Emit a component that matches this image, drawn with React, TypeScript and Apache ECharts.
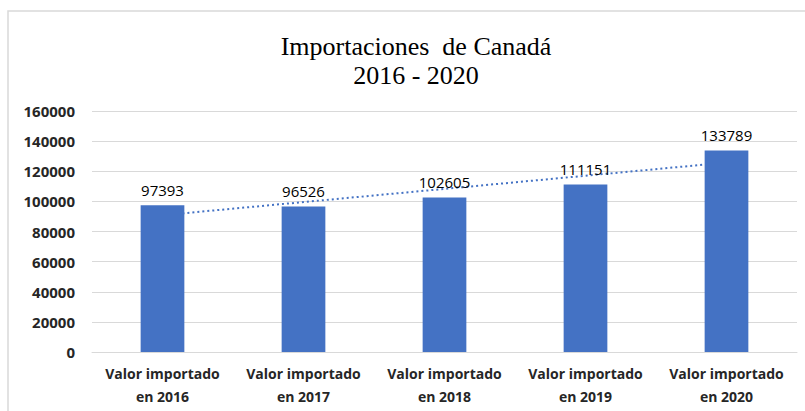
import React, { useEffect, useRef } from "react";
import * as echarts from "echarts";

const categories = [
  "Valor importado\nen 2016",
  "Valor importado\nen 2017",
  "Valor importado\nen 2018",
  "Valor importado\nen 2019",
  "Valor importado\nen 2020",
];
const values = [97393, 96526, 102605, 111151, 133789];
// linear trendline endpoints (first and last category)
const trendEnds = [90809, 125776];
const titleLines = ["Importaciones  de Canadá", "2016 - 2020"];

export default function App() {
  const ref = useRef<HTMLDivElement>(null);
  useEffect(() => {
    document.body.style.margin = "0";
    const chart = echarts.init(ref.current!, null, { renderer: "svg" });
    const trendData: (number | string)[] = categories.map(() => "-");
    trendData[0] = trendEnds[0];
    trendData[categories.length - 1] = trendEnds[1];
    chart.setOption({
      animation: false,
      backgroundColor: "#ffffff",
      title: {
        text: titleLines.join("\n"),
        left: 411,
        textAlign: "center",
        top: 27,
        textStyle: {
          fontFamily: "Liberation Serif",
          fontWeight: "normal",
          fontSize: 26,
          lineHeight: 29,
          color: "#000000",
        },
      },
      graphic: [
        {
          type: "rect",
          shape: { x: 8, y: 11, width: 900, height: 500 },
          style: { fill: "none", stroke: "#d9d9d9", lineWidth: 1.5 },
          silent: true,
        },
      ],
      grid: { left: 92, right: 8, top: 111, bottom: 59 },
      xAxis: {
        type: "category",
        data: categories,
        axisLine: { lineStyle: { color: "#d9d9d9", width: 1 } },
        axisTick: { show: false },
        axisLabel: {
          fontFamily: "Open Sans",
          fontWeight: "bold",
          fontSize: 14,
          lineHeight: 23,
          color: "#262626",
          margin: 10,
          interval: 0,
        },
      },
      yAxis: {
        type: "value",
        min: 0,
        max: 160000,
        interval: 20000,
        axisLine: { show: false },
        axisTick: { show: false },
        splitLine: { lineStyle: { color: "#d9d9d9", width: 1 } },
        axisLabel: {
          fontFamily: "Open Sans",
          fontWeight: "bold",
          fontSize: 15,
          color: "#262626",
          margin: 17,
          formatter: (v: number) => String(v),
        },
      },
      series: [
        {
          type: "line",
          data: trendData,
          connectNulls: true,
          symbol: "none",
          z: 1,
          lineStyle: { color: "#4472C4", width: 2, type: [2, 3] },
        },
        {
          type: "bar",
          data: values,
          barWidth: "31%",
          z: 2,
          itemStyle: { color: "#4472C4" },
          label: {
            show: true,
            position: "top",
            distance: 8,
            fontFamily: "Open Sans",
            fontSize: 15,
            color: "#000000",
          },
        },
      ],
    });
    return () => chart.dispose();
  }, []);
  return <div ref={ref} style={{ width: 805, height: 411 }} />;
}
